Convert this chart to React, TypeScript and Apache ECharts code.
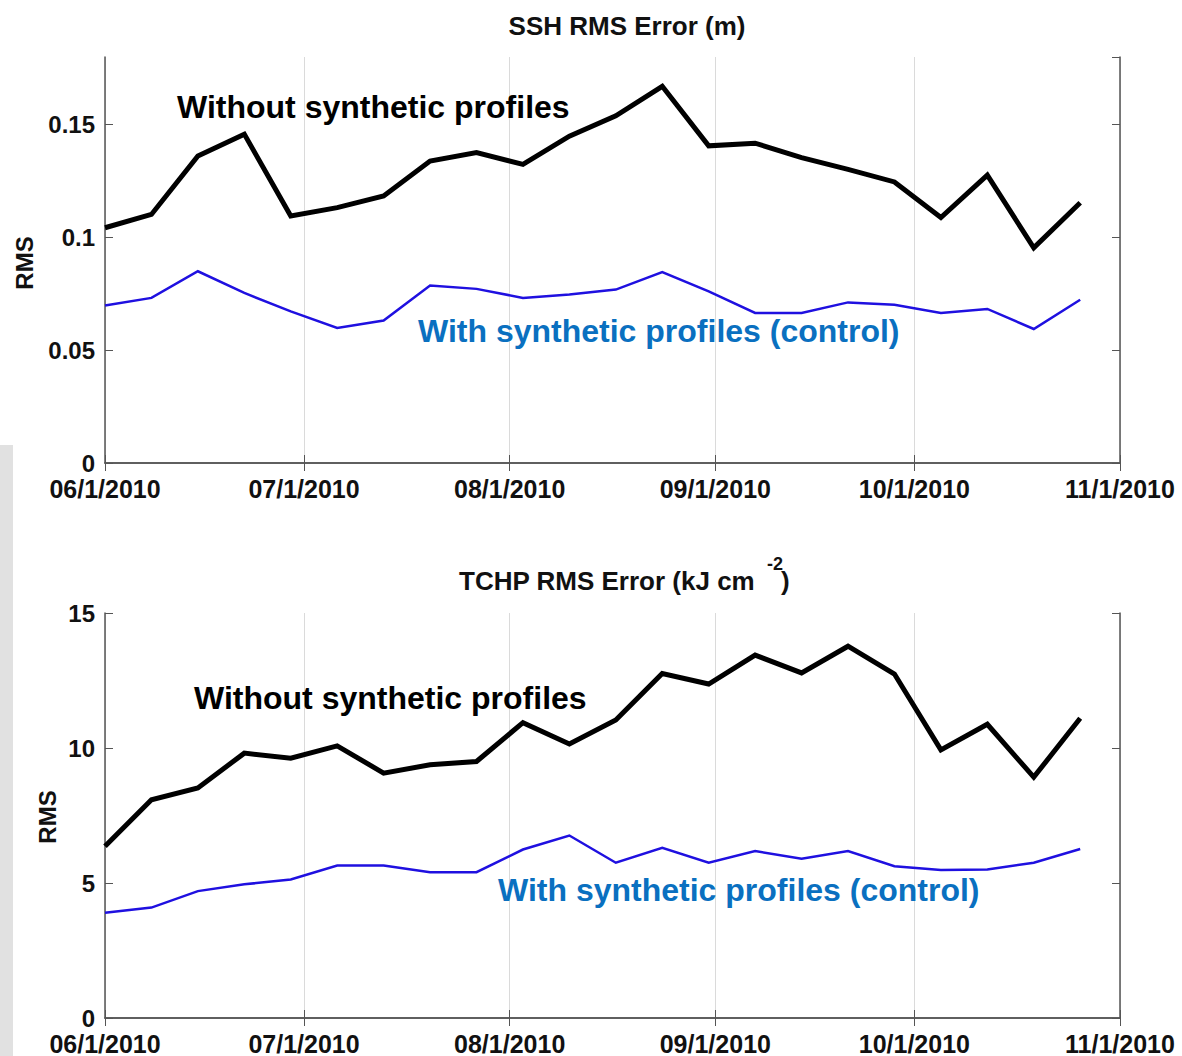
import React, { useEffect, useRef } from "react";
import * as echarts from "echarts";

// ---- data ----
const START_DATE = "2010-06-01";
const END_DATE = "2010-11-01";

const sampleDates = [
  "2010-06-01", "2010-06-08", "2010-06-15", "2010-06-22", "2010-06-29",
  "2010-07-06", "2010-07-13", "2010-07-20", "2010-07-27", "2010-08-03",
  "2010-08-10", "2010-08-17", "2010-08-24", "2010-08-31", "2010-09-07",
  "2010-09-14", "2010-09-21", "2010-09-28", "2010-10-05", "2010-10-12",
  "2010-10-19", "2010-10-26",
];

const sshWithout = [
  0.1043, 0.1102, 0.1361, 0.1458, 0.1095, 0.1132, 0.1184, 0.1339, 0.1376, 0.1324,
  0.1449, 0.1539, 0.167, 0.1406, 0.1418, 0.1354, 0.1302, 0.1246, 0.1088, 0.1276,
  0.0954, 0.1154,
];
const sshWith = [
  0.0698, 0.0732, 0.085, 0.0754, 0.0672, 0.0599, 0.0632, 0.0787, 0.0772, 0.0732,
  0.0747, 0.0769, 0.0846, 0.0761, 0.0665, 0.0665, 0.0712, 0.0702, 0.0665, 0.0683,
  0.0594, 0.0724,
];
const tchpWithout = [
  6.36, 8.08, 8.52, 9.81, 9.62, 10.08, 9.07, 9.38, 9.5, 10.94,
  10.15, 11.04, 12.76, 12.37, 13.44, 12.78, 13.77, 12.74, 9.93, 10.88,
  8.92, 11.1,
];
const tchpWith = [
  3.9, 4.09, 4.7, 4.95, 5.13, 5.65, 5.65, 5.4, 5.4, 6.24,
  6.76, 5.75, 6.3, 5.75, 6.18, 5.9, 6.18, 5.62, 5.48, 5.5,
  5.75, 6.26,
];

const sshAxis = { min: 0, max: 0.18, interval: 0.05 };
const tchpAxis = { min: 0, max: 15, interval: 5 };

const titles = ["SSH RMS Error (m)", "TCHP RMS Error (kJ cm"];
const labelWithout = "Without synthetic profiles";
const labelWith = "With synthetic profiles (control)";
const yName = "RMS";

// ---- helpers ----
function buildDays(start: string, end: string): string[] {
  const out: string[] = [];
  const [ys, ms, ds] = start.split("-").map(Number);
  const [ye, me, de] = end.split("-").map(Number);
  let t = Date.UTC(ys, ms - 1, ds);
  const tEnd = Date.UTC(ye, me - 1, de);
  while (t <= tEnd) {
    out.push(new Date(t).toISOString().slice(0, 10));
    t += 86400000;
  }
  return out;
}

const FONT = "'Liberation Sans', Arial, Helvetica, sans-serif";
const AXIS_COLOR = "#555555";
const BLUE_LINE = "#1f10e0";
const BLUE_TEXT = "#0a70c0";

export default function App() {
  const ref = useRef<HTMLDivElement>(null);

  useEffect(() => {
    if (!ref.current) return;
    const chart = echarts.init(ref.current, undefined, { renderer: "svg" });
    const days = buildDays(START_DATE, END_DATE);
    const isMonthStart = (_i: number, v: string) => v.slice(8) === "01";
    const fmt = (v: string) => `${v.slice(5, 7)}/${Number(v.slice(8))}/${v.slice(0, 4)}`;

    const grids = [
      { left: 105, right: 62, top: 57, height: 406 },
      { left: 105, right: 62, top: 613, height: 406 },
    ];

    const xAxes: any[] = [];
    const yAxes: any[] = [];
    [0, 1].forEach((g) => {
      xAxes.push({
        type: "category",
        gridIndex: g,
        data: days,
        boundaryGap: false,
        position: "bottom",
        axisLine: { show: true, lineStyle: { color: AXIS_COLOR, width: 1.5 } },
        axisTick: { show: true, inside: true, length: 8, interval: isMonthStart, lineStyle: { color: AXIS_COLOR } },
        axisLabel: {
          interval: isMonthStart,
          formatter: fmt,
          fontSize: 25,
          fontWeight: "bold",
          color: "#111",
          fontFamily: FONT,
          margin: 13,
        },
        splitLine: { show: true, interval: isMonthStart, lineStyle: { color: "#dadada", width: 1 } },
      });
      xAxes.push({
        type: "category",
        gridIndex: g,
        data: days,
        boundaryGap: false,
        position: "top",
        axisLine: { show: true, lineStyle: { color: AXIS_COLOR, width: 1.5 } },
        axisTick: { show: true, inside: true, length: 8, interval: isMonthStart, lineStyle: { color: AXIS_COLOR } },
        axisLabel: { show: false },
        splitLine: { show: false },
      });
      const ax = g === 0 ? sshAxis : tchpAxis;
      yAxes.push({
        type: "value",
        gridIndex: g,
        position: "left",
        min: ax.min,
        max: ax.max,
        interval: ax.interval,
        axisLine: { show: true, lineStyle: { color: AXIS_COLOR, width: 1.5 } },
        axisTick: { show: true, inside: true, length: 8, lineStyle: { color: AXIS_COLOR } },
        axisLabel: {
          fontSize: 24,
          fontWeight: "bold",
          color: "#111",
          fontFamily: FONT,
          margin: 10,
          showMaxLabel: g === 1,
        },
        splitLine: { show: false },
      });
      yAxes.push({
        type: "value",
        gridIndex: g,
        position: "right",
        min: ax.min,
        max: ax.max,
        interval: ax.interval,
        axisLine: { show: true, lineStyle: { color: AXIS_COLOR, width: 1.5 } },
        axisTick: { show: true, inside: true, length: 8, lineStyle: { color: AXIS_COLOR } },
        axisLabel: { show: false },
        splitLine: { show: false },
      });
    });

    const mk = (vals: number[], g: number, color: string, width: number) => ({
      type: "line",
      xAxisIndex: g * 2,
      yAxisIndex: g * 2,
      data: sampleDates.map((d, i) => [d, vals[i]]),
      symbol: "none",
      lineStyle: { color, width, join: "miter" },
      z: width > 3 ? 3 : 4,
    });

    const txt = (text: string, x: number, y: number, size: number, color: string, align = "left", extra: any = {}) => ({
      type: "text",
      x,
      y,
      z: 100,
      ...extra,
      style: {
        text,
        fill: color,
        font: `bold ${size}px ${FONT}`,
        align,
        verticalAlign: "middle",
      },
    });

    chart.setOption({
      animation: false,
      backgroundColor: "#ffffff",
      textStyle: { fontFamily: FONT },
      grid: grids,
      xAxis: xAxes,
      yAxis: yAxes,
      series: [
        mk(sshWithout, 0, "#000000", 5),
        mk(sshWith, 0, BLUE_LINE, 2.5),
        mk(tchpWithout, 1, "#000000", 5),
        mk(tchpWith, 1, BLUE_LINE, 2.5),
      ],
      graphic: [
        { type: "rect", z: 99, shape: { x: 0, y: 445, width: 13, height: 611 }, style: { fill: "#e1e1e1" } },
        { type: "rect", z: 99, shape: { x: 432, y: 54, width: 68, height: 6 }, style: { fill: "#ffffff" } },
        txt(titles[0], 627, 26, 26, "#111", "center"),
        txt(titles[1], 459, 581, 26, "#111", "left"),
        txt("-2", 767, 564, 18, "#111", "left"),
        txt(")", 781, 581, 26, "#111", "left"),
        txt(yName, 24, 263, 24, "#111", "center", { rotation: Math.PI / 2 }),
        txt(yName, 47, 817, 24, "#111", "center", { rotation: Math.PI / 2 }),
        txt(labelWithout, 177, 107, 32, "#000", "left"),
        txt(labelWith, 418, 331, 32, BLUE_TEXT, "left"),
        txt(labelWithout, 194, 698, 32, "#000", "left"),
        txt(labelWith, 498, 890, 32, BLUE_TEXT, "left"),
      ],
    });
    return () => chart.dispose();
  }, []);

  return (
    <div
      ref={ref}
      style={{ position: "fixed", left: 0, top: 0, width: 1182, height: 1056, background: "#fff" }}
    />
  );
}
